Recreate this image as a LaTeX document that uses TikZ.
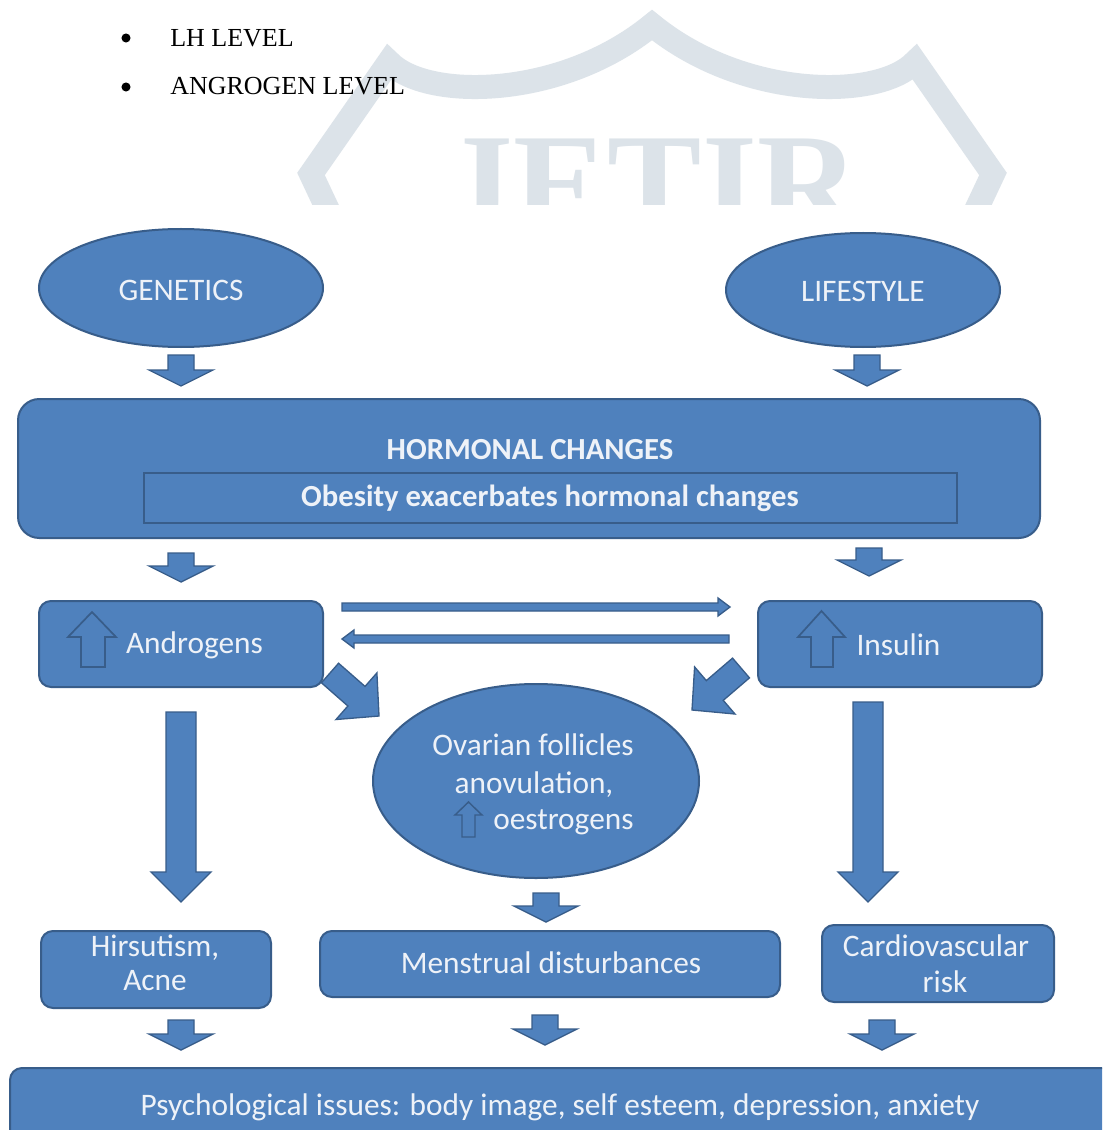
\documentclass[tikz,border=0pt]{standalone}
\usepackage{fontspec}
\usetikzlibrary{shapes.geometric,calc}
\newfontfamily\carlito{Carlito}
\newfontfamily\tnr{Liberation Serif}
\definecolor{fillblue}{HTML}{4F81BD}
\definecolor{edgeblue}{HTML}{385D8A}
\definecolor{txtcol}{HTML}{EEF2F8}
\definecolor{wmark}{HTML}{DCE3E9}
\tikzset{
  shapebox/.style={fill=fillblue, draw=edgeblue, line width=1.5pt, inner sep=0pt},
  roundbox/.style={shapebox, rectangle, rounded corners=9pt},
  ellnode/.style={shapebox, ellipse},
  lbl/.style={text=txtcol, font=\carlito\fontsize{23.5}{26}\selectfont, align=center, inner sep=0pt},
  boldlbl/.style={lbl, font=\carlito\bfseries\fontsize{23}{26}\selectfont},
  arrowblk/.style={fill=fillblue, draw=edgeblue, line width=1pt, line join=miter},
  hollow/.style={draw=edgeblue, line width=1.3pt, line join=miter},
  bullettext/.style={font=\tnr\fontsize{19.5}{22}\selectfont, anchor=base west, inner sep=0pt, text=black}
}
% #1 start, #2 tip, #3 shaft half width, #4 head half width, #5 head length
\newcommand\barrow[5]{%
  \coordinate (bh) at ($(#2)!#5!(#1)$);
  \filldraw[arrowblk] ($(#1)!#3!90:(#2)$) -- ($(bh)!#3!-90:(#1)$) -- ($(bh)!#4!-90:(#1)$) -- (#2) -- ($(bh)!#4!90:(#1)$) -- ($(bh)!#3!90:(#1)$) -- ($(#1)!#3!-90:(#2)$) -- cycle;}
\begin{document}
\begin{tikzpicture}[x=0.75pt, y=-0.75pt]
\useasboundingbox (0,0) rectangle (1102,1130);
\clip (0,0) rectangle (1102,1130);
\fill[white] (0,0) rectangle (1102,1130);

% watermark
\begin{scope}
\clip (0,0) rectangle (1102,205);
\draw[wmark, line width=18pt, line join=miter] (335,225) -- (311,174) -- (389,62) .. controls (425,100) and (560,100) .. (652,25) .. controls (744,100) and (879,100) .. (915,62) -- (993,174) -- (969,225);
\node[text=wmark, font=\tnr\bfseries\fontsize{106}{106}\selectfont, anchor=base, inner sep=0pt] (wm) at (651,232) {JETIR};
\end{scope}

% bullet list
\fill (126,38) circle (3.4pt);
\fill (126,87) circle (3.4pt);
\node[bullettext] (lh) at (170,47) {LH LEVEL};
\node[bullettext] (andlev) at (170,95) {ANGROGEN LEVEL};

% top ellipses
\node[ellnode, minimum width=213pt, minimum height=88.5pt] (gen) at (181,288) {};
\node[lbl] (gentxt) at (181,290) {GENETICS};
\node[ellnode, minimum width=205.5pt, minimum height=85.5pt] (life) at (863,290) {};
\node[lbl] (lifetxt) at (863,291) {LIFESTYLE};

% hormonal box
\node[shapebox, rectangle, rounded corners=16pt, minimum width=766.5pt, minimum height=104.25pt] (horm) at (529,468.5) {};
\node[boldlbl] (hormtxt) at (530,450) {HORMONAL CHANGES};
\node[draw=edgeblue, line width=1.5pt, rectangle, minimum width=609.75pt, minimum height=37.5pt, inner sep=0pt] (obes) at (550.5,498) {};
\node[boldlbl] (obestxt) at (550,498) {Obesity exacerbates hormonal changes};

% androgens / insulin
\node[roundbox, minimum width=213pt, minimum height=64.5pt] (andr) at (181,644) {};
\draw[hollow] (81,667) -- (81,637) -- (68,637) -- (92,612) -- (116,637) -- (105,637) -- (105,667) -- cycle;
\node[lbl] (andrtxt) at (194.5,645) {Androgens};
\node[roundbox, minimum width=213pt, minimum height=64.5pt] (ins) at (900,644) {};
\draw[hollow] (811,667) -- (811,637) -- (798,637) -- (821.5,611) -- (845,637) -- (833,637) -- (833,667) -- cycle;
\node[lbl] (instxt) at (898.5,645) {Insulin};

% ovary ellipse
\node[ellnode, minimum width=244.5pt, minimum height=145.5pt] (ovary) at (536,781) {};
\node[lbl] (ov1) at (533,745) {Ovarian follicles};
\node[lbl] (ov2) at (534,785) {anovulation,};
\draw[hollow, line width=1.1pt] (462,837) -- (462,815) -- (455,815) -- (468.5,802) -- (482,815) -- (475,815) -- (475,837) -- cycle;
\node[lbl, anchor=west] (ov3) at (493,822) {oestrogens};

% bottom row boxes
\node[roundbox, minimum width=172.5pt, minimum height=57.75pt] (hirs) at (156,969.5) {};
\node[lbl] (hirs1) at (155,948) {Hirsutism,};
\node[lbl] (hirs2) at (155,981) {Acne};
\node[roundbox, minimum width=345pt, minimum height=49.5pt] (mens) at (550,964) {};
\node[lbl] (menstxt) at (551,963) {Menstrual disturbances};
\node[roundbox, minimum width=174pt, minimum height=57.75pt] (card) at (938,963.5) {};
\node[lbl] (card1) at (936,946) {Cardiovascular};
\node[lbl] (card2) at (945,982) {risk};

% psychological box
\node[roundbox, minimum width=836.25pt, minimum height=61.5pt] (psych) at (567.5,1109) {};
\node[lbl] (psychtxt) at (560,1107) {Psychological issues: body image, self esteem, depression, anxiety};

% connector coordinates
\coordinate (g1) at (181,355); \coordinate (g2) at (181,386);
\coordinate (l1) at (867,355); \coordinate (l2) at (867,386);
\coordinate (h1) at (181,553); \coordinate (h2) at (181,582);
\coordinate (h3) at (869,548); \coordinate (h4) at (869,576);
\coordinate (a1) at (181,712); \coordinate (a2) at (181,902);
\coordinate (i1) at (868,702); \coordinate (i2) at (868,902);
\coordinate (o1) at (546,893); \coordinate (o2) at (546,922);
\coordinate (b1) at (181,1020); \coordinate (b2) at (181,1050);
\coordinate (b3) at (545,1015); \coordinate (b4) at (545,1045);
\coordinate (b5) at (882,1020); \coordinate (b6) at (882,1050);
\coordinate (d1) at (330,673); \coordinate (d2) at (379,716);
\coordinate (d3) at (741,668); \coordinate (d4) at (692,710);
\coordinate (t1) at (342,607); \coordinate (t2) at (730,607);
\coordinate (t3) at (729,639); \coordinate (t4) at (342,639);

% block arrows
\barrow{g1}{g2}{9.75pt}{24pt}{12pt}
\barrow{l1}{l2}{9.75pt}{24pt}{12pt}
\barrow{h1}{h2}{9.75pt}{24pt}{12pt}
\barrow{h3}{h4}{9.75pt}{24pt}{12pt}
\barrow{a1}{a2}{11.25pt}{22.5pt}{22.5pt}
\barrow{i1}{i2}{11.25pt}{22.5pt}{22.5pt}
\barrow{o1}{o2}{9.75pt}{24pt}{12pt}
\barrow{b1}{b2}{9.75pt}{24pt}{12pt}
\barrow{b3}{b4}{9.75pt}{24pt}{12pt}
\barrow{b5}{b6}{9.75pt}{24pt}{12pt}
\barrow{d1}{d2}{9.75pt}{23.25pt}{22.5pt}
\barrow{d3}{d4}{9.75pt}{23.25pt}{22.5pt}
\barrow{t1}{t2}{3pt}{6.75pt}{9pt}
\barrow{t3}{t4}{3pt}{6.75pt}{9pt}
\end{tikzpicture}
\end{document}
